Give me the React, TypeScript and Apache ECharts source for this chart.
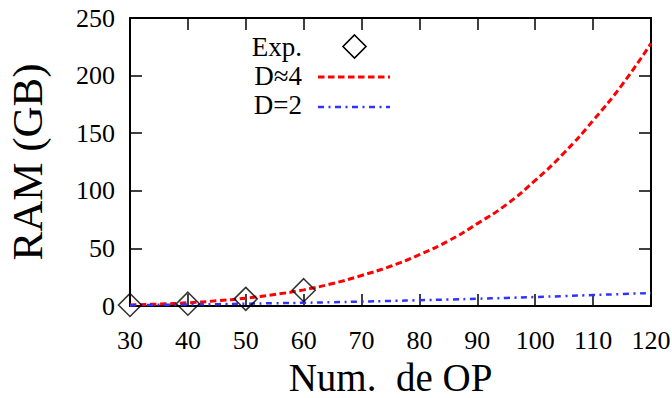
import { useEffect, useRef } from "react";
import * as echarts from "echarts";

// Experimental memory use, in GB, for each number of OPs
const expOps = [30, 40, 50, 60];
const expRam = [0.9, 2, 6.2, 13.7];

// Fitted curves sampled along the OP axis
const fitOps = [30, 35, 40, 45, 50, 55, 60, 65, 70, 75, 80, 85, 90, 95, 100, 105, 110, 115, 120];
const ramD4 = [0.9, 1.7, 2.8, 4.5, 6.8, 10, 14, 19.5, 26.5, 34.5, 44.5, 56.5, 71.5, 88, 109, 133, 161, 192, 228];
const ramD2 = [0.7, 1.0, 1.3, 1.6, 2.0, 2.4, 2.8, 3.3, 3.8, 4.4, 5.0, 5.6, 6.3, 7.0, 7.8, 8.6, 9.5, 10.4, 11.3];

// Legend entries
const legendNames = ["Exp.", "D\u22484", "D=2"];

const FONT = "Liberation Serif";
const RED = "#ff0000";
const BLUE = "#3232ff";
const RED_DASH = [6.5, 3.5];
const BLUE_DASH = [6, 4.5, 2, 4.5];

const frameAxis = (extra: any) => ({
  type: "value",
  axisLine: { show: true, onZero: false, lineStyle: { color: "#000", width: 2 } },
  axisTick: { show: true, inside: true, length: 12, lineStyle: { color: "#000", width: 1.5 } },
  splitLine: { show: false },
  ...extra,
});

export default function App() {
  const ref = useRef<HTMLDivElement>(null);

  useEffect(() => {
    if (!ref.current) return;
    const chart = echarts.init(ref.current, null, { renderer: "svg" });

    const labelStyle = { fontFamily: FONT, fontSize: 26, color: "#000" };
    const legendText = { fontFamily: FONT, fontSize: 27, fill: "#000", align: "right", verticalAlign: "middle" };
    const lx = 302;

    chart.setOption({
      animation: false,
      backgroundColor: "#fff",
      textStyle: { fontFamily: FONT },
      grid: { left: 130, right: 21, top: 18, bottom: 92, containLabel: false, outerBoundsMode: "none" },
      xAxis: [
        frameAxis({
          position: "bottom",
          min: 30,
          max: 120,
          interval: 10,
          axisLabel: { ...labelStyle, margin: 21 },
          name: "Num.  de OP",
          nameLocation: "middle",
          nameGap: 53,
          nameTextStyle: { fontFamily: FONT, fontSize: 39, lineHeight: 36, color: "#000" },
        }),
        frameAxis({ position: "top", min: 30, max: 120, interval: 10, axisLabel: { show: false } }),
      ],
      yAxis: [
        frameAxis({
          position: "left",
          min: 0,
          max: 250,
          interval: 50,
          axisLabel: { ...labelStyle, margin: 15 },
          name: "RAM (GB)",
          nameLocation: "middle",
          nameGap: 81,
          nameTextStyle: { fontFamily: FONT, fontSize: 43, color: "#000" },
        }),
        frameAxis({ position: "right", min: 0, max: 250, interval: 50, axisLabel: { show: false } }),
      ],
      series: [
        {
          name: legendNames[1],
          type: "line",
          data: fitOps.map((x, i) => [x, ramD4[i]]),
          smooth: true,
          showSymbol: false,
          lineStyle: { color: RED, width: 3, type: RED_DASH },
          z: 2,
        },
        {
          name: legendNames[2],
          type: "line",
          data: fitOps.map((x, i) => [x, ramD2[i]]),
          smooth: true,
          showSymbol: false,
          lineStyle: { color: BLUE, width: 2.5, type: BLUE_DASH },
          z: 2,
        },
        {
          name: legendNames[0],
          type: "scatter",
          data: expOps.map((x, i) => [x, expRam[i]]),
          symbol: "diamond",
          symbolSize: 23,
          clip: false,
          itemStyle: { color: "transparent", borderColor: "#000", borderWidth: 1.6 },
          z: 5,
        },
      ],
      graphic: [
        { type: "text", x: lx, y: 47, style: { text: legendNames[0], ...legendText } },
        {
          type: "polygon",
          shape: { points: [[354.5, 35], [366, 46.5], [354.5, 58], [343, 46.5]] },
          style: { fill: "none", stroke: "#000", lineWidth: 1.6 },
        },
        { type: "text", x: lx, y: 76, style: { text: legendNames[1], ...legendText } },
        {
          type: "line",
          shape: { x1: 318, y1: 77, x2: 390, y2: 77 },
          style: { stroke: RED, lineWidth: 3, lineDash: RED_DASH },
        },
        { type: "text", x: lx, y: 105, style: { text: legendNames[2], ...legendText } },
        {
          type: "line",
          shape: { x1: 318, y1: 107, x2: 390, y2: 107 },
          style: { stroke: BLUE, lineWidth: 2.5, lineDash: BLUE_DASH },
        },
      ],
    });

    return () => chart.dispose();
  }, []);

  return (
    <div
      ref={ref}
      style={{ position: "fixed", left: 0, top: 0, width: 672, height: 398, background: "#fff" }}
    />
  );
}
